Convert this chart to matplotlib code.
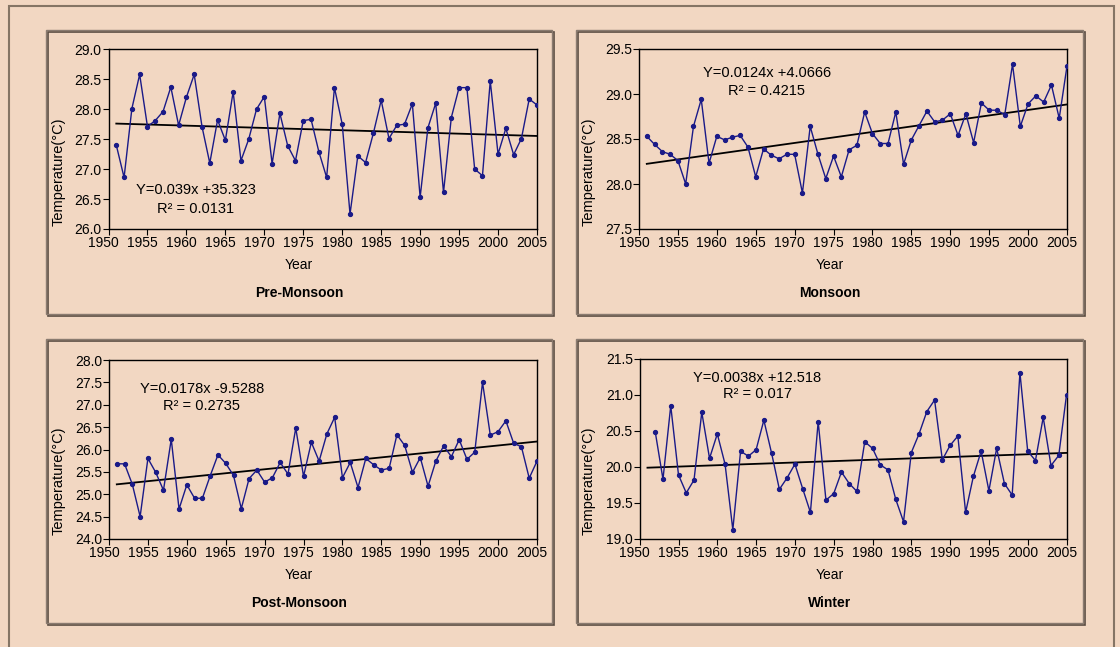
import numpy as np
import matplotlib
matplotlib.use('Agg')
import matplotlib.pyplot as plt
import matplotlib.transforms as mtransforms
from matplotlib.patches import Rectangle

plt.rcParams['font.family'] = ['Liberation Sans', 'DejaVu Sans']

# yearly mean temperatures
years = np.arange(1951, 2006)
winter_years = np.arange(1952, 2006)

pre_monsoon = [27.40, 26.86, 28.01, 28.58, 27.71, 27.81, 27.96, 28.37, 27.73, 28.20,
               28.58, 27.71, 27.10, 27.82, 27.48, 28.29, 27.14, 27.50, 28.00, 28.21,
               27.09, 27.93, 27.39, 27.14, 27.81, 27.83, 27.29, 26.86, 28.36, 27.75,
               26.25, 27.22, 27.11, 27.60, 28.15, 27.51, 27.73, 27.75, 28.09, 26.53,
               27.69, 28.10, 26.61, 27.86, 28.36, 28.36, 27.00, 26.89, 28.47, 27.25,
               27.68, 27.24, 27.51, 28.17, 28.07]

monsoon = [28.53, 28.44, 28.36, 28.33, 28.26, 28.00, 28.64, 28.94, 28.23, 28.53,
           28.49, 28.52, 28.54, 28.41, 28.08, 28.39, 28.32, 28.28, 28.33, 28.33,
           27.90, 28.64, 28.33, 28.06, 28.31, 28.08, 28.38, 28.43, 28.80, 28.56,
           28.45, 28.45, 28.80, 28.22, 28.49, 28.65, 28.81, 28.69, 28.71, 28.78,
           28.54, 28.78, 28.46, 28.90, 28.82, 28.82, 28.77, 29.33, 28.64, 28.89,
           28.98, 28.91, 29.10, 28.73, 29.31]

post_monsoon = [25.68, 25.68, 25.22, 24.50, 25.80, 25.49, 25.09, 26.23, 24.67, 25.21,
                24.91, 24.91, 25.41, 25.88, 25.69, 25.42, 24.68, 25.35, 25.54, 25.27,
                25.37, 25.71, 25.45, 26.48, 25.40, 26.16, 25.74, 26.35, 26.72, 25.37,
                25.71, 25.15, 25.80, 25.66, 25.54, 25.58, 26.33, 26.09, 25.49, 25.82,
                25.18, 25.74, 26.08, 25.84, 26.22, 25.78, 25.94, 27.50, 26.32, 26.40,
                26.64, 26.14, 26.06, 25.36, 25.74]

winter = [20.49, 19.83, 20.85, 19.89, 19.64, 19.82, 20.76, 20.12, 20.46, 20.04,
          19.13, 20.22, 20.15, 20.24, 20.65, 20.19, 19.69, 19.85, 20.04, 19.70,
          19.37, 20.63, 19.54, 19.63, 19.93, 19.77, 19.66, 20.35, 20.26, 20.03,
          19.96, 19.55, 19.24, 20.20, 20.46, 20.77, 20.93, 20.10, 20.30, 20.43,
          19.37, 19.87, 20.22, 19.67, 20.26, 19.77, 19.61, 21.31, 20.22, 20.09,
          20.69, 20.02, 20.16, 21.00]

titles = ['Pre-Monsoon', 'Monsoon', 'Post-Monsoon', 'Winter']
equations = ['Y=0.039x +35.323', 'Y=0.0124x +4.0666', 'Y=0.0178x -9.5288', 'Y=0.0038x +12.518']
r_squared = ['R² = 0.0131', 'R² = 0.4215', 'R² = 0.2735', 'R² = 0.017']
y_limits = [(26.0, 29.0), (27.5, 29.5), (24.0, 28.0), (19.0, 21.5)]

BG = '#f2d7c2'
LINE = '#1a1a88'
W, H = 1120, 647

fig = plt.figure(figsize=(11.2, 6.47), dpi=100, facecolor=BG)


def px_box(x0, y0, x1, y1):
    # pixel box (top-left origin) -> figure fraction rect
    return [x0 / W, 1 - y1 / H, (x1 - x0) / W, (y1 - y0) / H]


# outer frame
fig.add_artist(Rectangle((9 / W, -0.01), 1105 / W, 1.01 - 6 / H, transform=fig.transFigure,
                         fill=False, edgecolor='#857565', lw=1.5))

panels = [(46, 30, 552, 314), (576, 30, 1083, 314), (46, 339, 552, 623), (576, 339, 1083, 623)]
plots = [(108.5, 49.3, 537, 229), (639, 49, 1067, 229), (109, 360, 537, 539), (639.7, 359, 1066.5, 539)]
text_pos = [(0.204, 0.217, 0.111), (0.299, 0.867, 0.767), (0.217, 0.838, 0.743), (0.275, 0.894, 0.806)]
series = [(years, pre_monsoon), (years, monsoon), (years, post_monsoon), (winter_years, winter)]

shift = mtransforms.ScaledTranslation(-5 / 100, 0, fig.dpi_scale_trans)

for i in range(4):
    x0, y0, x1, y1 = panels[i]
    # panel shadow + box
    fig.add_artist(Rectangle(px_box(x0 + 1.5, y0 + 1.5, x1 + 1.5, y1 + 1.5)[:2],
                             (x1 - x0) / W, (y1 - y0) / H, transform=fig.transFigure,
                             fill=False, edgecolor='#5a4c42', lw=1.2))
    fig.add_artist(Rectangle(px_box(x0, y0, x1, y1)[:2], (x1 - x0) / W, (y1 - y0) / H,
                             transform=fig.transFigure, fill=False, edgecolor='#8a7b70', lw=1.0))

    ax = fig.add_axes(px_box(*plots[i]))
    ax.set_facecolor(BG)
    xs, ys = series[i]
    ax.plot(xs, ys, color=LINE, lw=1.0, marker='o', markersize=2.8, zorder=3)

    # linear trend line
    coef = np.polyfit(xs, ys, 1)
    ax.plot(years, np.polyval(coef, years), color='black', lw=1.3, zorder=2)

    ax.set_xlim(1950, 2005)
    ax.set_ylim(*y_limits[i])
    ax.set_xticks(np.arange(1950, 2006, 5))
    ax.set_yticks(np.arange(y_limits[i][0], y_limits[i][1] + 0.01, 0.5))
    ax.set_yticklabels(['%.1f' % v for v in ax.get_yticks()])
    ax.tick_params(direction='out', length=4, width=0.8, labelsize=10, pad=1, colors='black')
    for lab in ax.get_xticklabels():
        lab.set_transform(lab.get_transform() + shift)
    for s in ax.spines.values():
        s.set_linewidth(1.0)
        s.set_color('black')

    ax.set_ylabel('Temperature(°C)', fontsize=10.5)
    ax.yaxis.set_label_coords((x0 + 20 - plots[i][0]) / (plots[i][2] - plots[i][0]),
                              (plots[i][3] - (y0 + y1) / 2) / (plots[i][3] - plots[i][1]))

    tx, ty1, ty2 = text_pos[i]
    ax.text(tx, ty1, equations[i], transform=ax.transAxes, ha='center', va='center', fontsize=10.5)
    ax.text(tx, ty2, r_squared[i], transform=ax.transAxes, ha='center', va='center', fontsize=10.5)

    cx = (x0 + x1) / 2 / W
    fig.text(cx, 1 - (plots[i][3] + 36) / H, 'Year', ha='center', va='center', fontsize=10)
    fig.text(cx, 1 - (plots[i][3] + 64) / H, titles[i], ha='center', va='center',
             fontsize=10, fontweight='bold')

fig.savefig('out.png', dpi=100, facecolor=BG)
